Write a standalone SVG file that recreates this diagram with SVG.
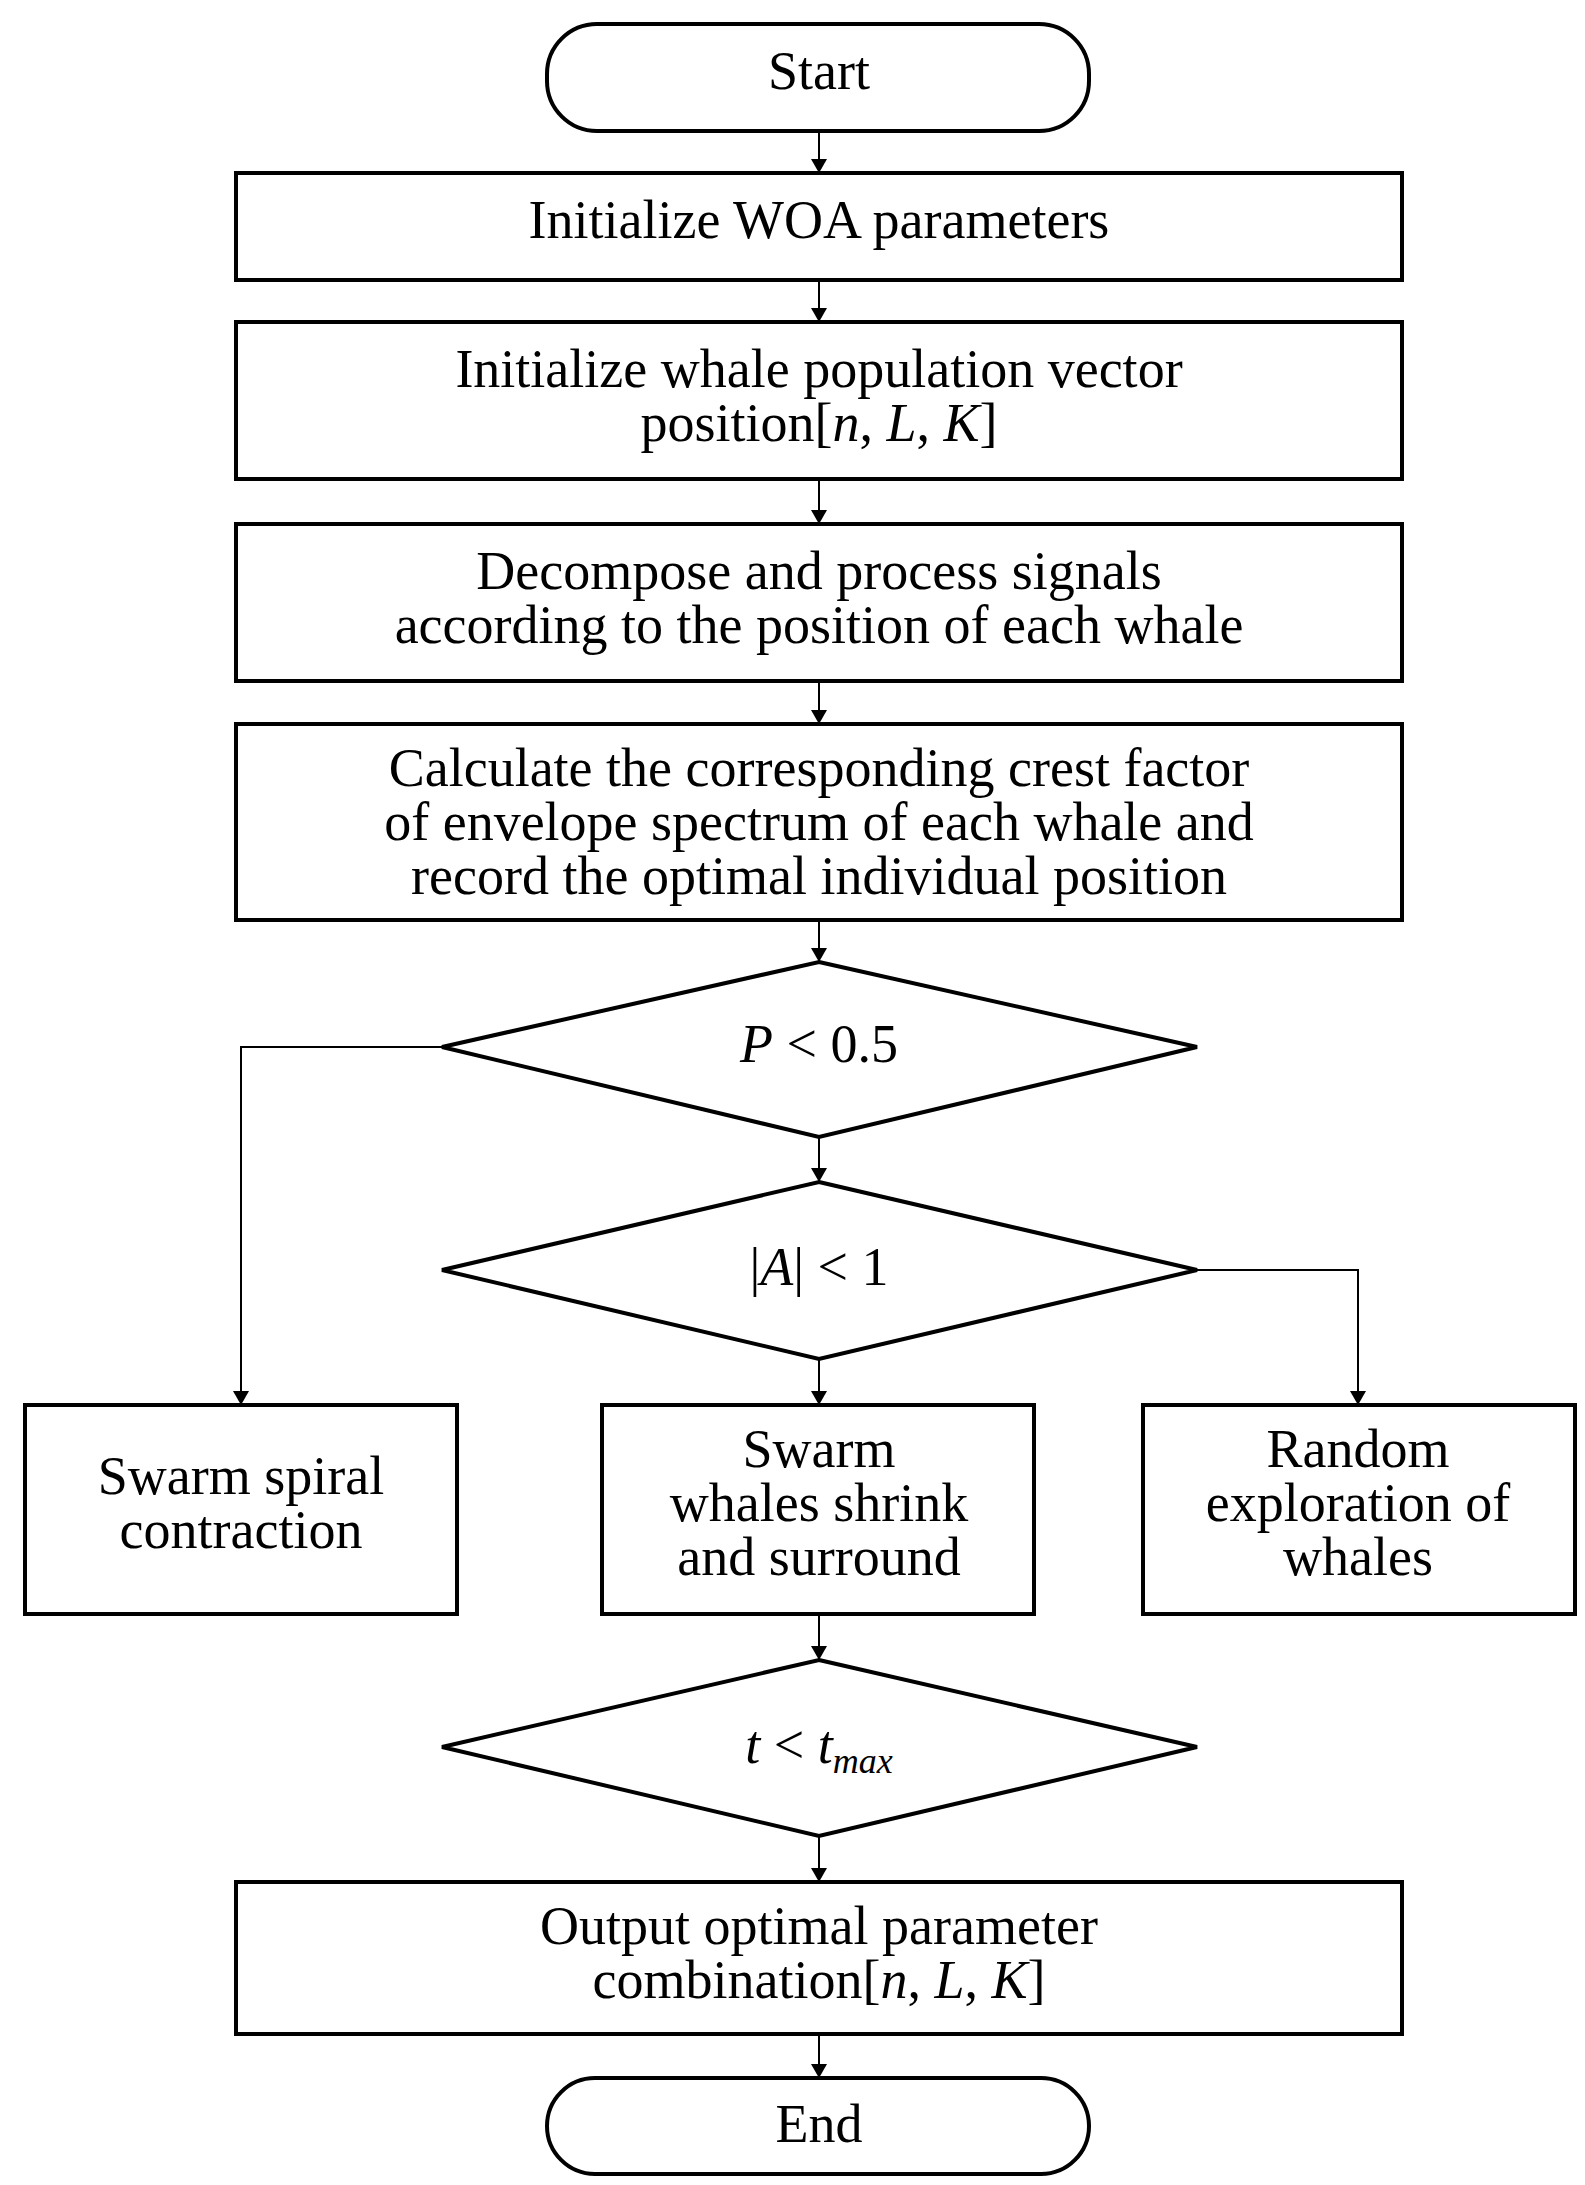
<svg xmlns="http://www.w3.org/2000/svg" width="1585" height="2185" viewBox="0 0 1585 2185">
<defs>
<marker id="ah" markerWidth="14" markerHeight="16" refX="14" refY="8" orient="auto" markerUnits="userSpaceOnUse"><path d="M0,0 L14,8 L0,16 Z" fill="#000"/></marker>
</defs>
<style>
.n{fill:#fff;stroke:#000;stroke-width:4}
.c{fill:none;stroke:#000;stroke-width:2;marker-end:url(#ah)}
text{font-family:"Liberation Serif","Times New Roman",serif;font-size:54px;text-anchor:middle;fill:#000}
.i{font-style:italic}
</style>
<rect width="1585" height="2185" fill="#fff"/>
<g id="connectors">
<line class="c" x1="819" y1="131" x2="819" y2="173"/>
<line class="c" x1="819" y1="280" x2="819" y2="322"/>
<line class="c" x1="819" y1="479" x2="819" y2="524"/>
<line class="c" x1="819" y1="681" x2="819" y2="724"/>
<line class="c" x1="819" y1="920" x2="819" y2="962"/>
<line class="c" x1="819" y1="1137" x2="819" y2="1182"/>
<polyline class="c" points="442,1047 241,1047 241,1405"/>
<polyline class="c" points="1197,1270 1358,1270 1358,1405"/>
<line class="c" x1="819" y1="1359" x2="819" y2="1405"/>
<line class="c" x1="819" y1="1614" x2="819" y2="1660"/>
<line class="c" x1="819" y1="1836" x2="819" y2="1882"/>
<line class="c" x1="819" y1="2034" x2="819" y2="2078"/>
</g>
<g id="start"><rect class="n" x="547" y="24" width="542" height="107" rx="50"/><text x="819" y="89">Start</text></g>
<g id="init"><rect class="n" x="236" y="173" width="1166" height="107"/><text x="819" y="238">Initialize WOA parameters</text></g>
<g id="pop"><rect class="n" x="236" y="322" width="1166" height="157"/><text x="819" y="387">Initialize whale population vector</text><text x="819" y="441">position[<tspan class="i">n</tspan>,  <tspan class="i">L</tspan>,  <tspan class="i">K</tspan>]</text></g>
<g id="decomp"><rect class="n" x="236" y="524" width="1166" height="157"/><text x="819" y="589">Decompose and process signals</text><text x="819" y="643">according to the position of each whale</text></g>
<g id="calc"><rect class="n" x="236" y="724" width="1166" height="196"/><text x="819" y="786">Calculate the corresponding crest factor</text><text x="819" y="840">of envelope spectrum of each whale and</text><text x="819" y="894">record the optimal individual position</text></g>
<g id="d1"><polygon class="n" points="819,962 1197,1047 819,1137 442,1047"/><text x="819" y="1062"><tspan class="i">P</tspan> &lt; 0.5</text></g>
<g id="d2"><polygon class="n" points="819,1182 1197,1270 819,1359 442,1270"/><text x="819" y="1285">|<tspan class="i">A</tspan>| &lt; 1</text></g>
<g id="spiral"><rect class="n" x="25" y="1405" width="432" height="209"/><text x="241" y="1494">Swarm spiral</text><text x="241" y="1548">contraction</text></g>
<g id="shrink"><rect class="n" x="602" y="1405" width="432" height="209"/><text x="819" y="1467">Swarm</text><text x="819" y="1521">whales shrink</text><text x="819" y="1575">and surround</text></g>
<g id="random"><rect class="n" x="1143" y="1405" width="432" height="209"/><text x="1358" y="1467">Random</text><text x="1358" y="1521">exploration of</text><text x="1358" y="1575">whales</text></g>
<g id="d3"><polygon class="n" points="819,1660 1197,1747 819,1836 442,1747"/><text x="819" y="1763"><tspan class="i">t</tspan> &lt; <tspan class="i">t</tspan><tspan class="i" font-size="36" dy="10">max</tspan></text></g>
<g id="output"><rect class="n" x="236" y="1882" width="1166" height="152"/><text x="819" y="1944">Output optimal parameter</text><text x="819" y="1998">combination[<tspan class="i">n</tspan>,  <tspan class="i">L</tspan>,  <tspan class="i">K</tspan>]</text></g>
<g id="end"><rect class="n" x="547" y="2078" width="542" height="96" rx="48"/><text x="819" y="2142">End</text></g>
</svg>
